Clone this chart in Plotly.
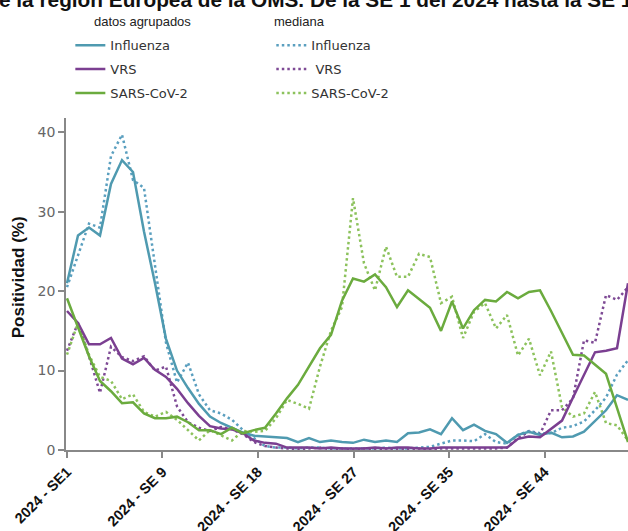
import plotly.graph_objects as go

weeks = list(range(1, 53))

influenza = [21, 27, 28, 27, 33.5, 36.5, 35, 27.5, 21, 14, 10, 7.8, 5.8, 4.2, 3.4, 2.8, 2.2, 1.8,
             1.7, 1.6, 1.5, 1.0, 1.5, 1.0, 1.2, 1.0, 0.9, 1.3, 1.0, 1.2, 1.0, 2.1, 2.2, 2.6, 2.0,
             4.0, 2.5, 3.2, 2.4, 2.0, 0.9, 1.9, 2.3, 1.9, 2.2, 1.6, 1.7, 2.3, 3.6, 5.0, 6.9, 6.3]
influenza_med = [20.5, 24.5, 28.5, 28, 37, 39.7, 34, 33, 23, 13.5, 8.5, 11, 7, 5.0, 4.6, 3.8, 2.5,
                 1.5, 0.5, 0.3, 0.3, 0.2, 0.3, 0.3, 0.2, 0.2, 0.2, 0.2, 0.2, 0.3, 0.2, 0.2, 0.3,
                 0.4, 0.8, 1.2, 1.2, 1.1, 2.0, 1.0, 0.8, 1.9, 2.4, 2.1, 2.1, 2.8, 3.0, 3.6, 5.0,
                 6.6, 9.5, 11.3]
vrs = [17.5, 16, 13.3, 13.3, 14.1, 11.5, 10.8, 11.6, 10.1, 9.2, 7.7, 5.9, 4.3, 3.0, 2.7, 2.6, 2.1,
       1.2, 0.9, 0.8, 0.3, 0.3, 0.3, 0.2, 0.3, 0.2, 0.2, 0.2, 0.3, 0.2, 0.3, 0.3, 0.2, 0.2, 0.3,
       0.3, 0.3, 0.3, 0.3, 0.3, 0.3, 1.4, 1.7, 1.6, 2.6, 3.7, 6.6, 9.5, 12.3, 12.5, 12.8, 21]
vrs_med = [12.5, 16, 11.8, 7.2, 13, 11.7, 11.2, 11.8, 10, 10.5, 5.5, 3.5, 2.8, 2.4, 2.9, 2.6, 2.0,
           1.0, 0.5, 0.3, 0.2, 0.1, 0.2, 0.3, 0.1, 0.2, 0.1, 0.2, 0.1, 0.2, 0.1, 0.1, 0.2, 0.1,
           0.2, 0.2, 0.2, 0.2, 0.2, 0.2, 0.3, 1.5, 2.3, 2.0, 5.0, 5.0, 6.5, 13.8, 13.5, 19.5, 18.9,
           20.5]
sars = [19.1, 15.5, 11.8, 8.7, 7.4, 5.9, 6.0, 4.6, 4.0, 4.0, 4.2, 3.5, 2.5, 2.5, 2.0, 2.8, 2.1,
        2.5, 2.8, 4.6, 6.5, 8.2, 10.5, 12.8, 14.5, 18.8, 21.6, 21.2, 22.1, 20.5, 18.0, 20.1, 19.0,
        17.9, 15.0, 18.7, 15.3, 17.6, 18.9, 18.7, 19.9, 19.1, 19.9, 20.1, 17.5, 14.7, 12.0, 11.9,
        10.8, 9.6, 5.3, 1.0]
sars_med = [12, 16, 12, 9.2, 8.7, 6.4, 7.0, 4.8, 4.2, 4.8, 3.8, 2.5, 1.2, 2.5, 1.9, 1.2, 2.4, 2.3,
            2.4, 4.0, 6.3, 5.8, 5.2, 10.5, 15, 18, 31.7, 23.5, 20.1, 25.6, 21.8, 21.8, 24.7, 24.3,
            18.5, 19.3, 14.1, 17.4, 18.5, 15.3, 17.0, 11.9, 14.0, 9.4, 12.4, 5.4, 4.2, 4.6, 7.3,
            3.4, 3.1, 1.2]

tick_vals = [1, 9.68, 18.36, 27.05, 35.73, 44.41]
tick_text = ["2024 - SE1", "2024 - SE 9", "2024 - SE 18", "2024 - SE 27", "2024 - SE 35", "2024 - SE 44"]

c_inf = "#4f9ab0"
c_vrs = "#7b3f91"
c_sars = "#6bab3e"
c_inf_m = "#5a9fbf"
c_vrs_m = "#7e4a95"
c_sars_m = "#8cc25c"

fig = go.Figure()
solid = [("Influenza", influenza, c_inf), ("VRS", vrs, c_vrs), ("SARS-CoV-2", sars, c_sars)]
dotted = [("Influenza", influenza_med, c_inf_m), (" VRS", vrs_med, c_vrs_m), ("SARS-CoV-2", sars_med, c_sars_m)]

for i, (name, vals, col) in enumerate(dotted):
    fig.add_trace(go.Scatter(x=weeks, y=vals, mode="lines", name=name,
                             line=dict(color=col, width=2.5, dash="2.5px,3px"),
                             legend="legend2", legendgroup="m%d" % i, legendrank=i + 1))
for i, (name, vals, col) in enumerate(solid):
    fig.add_trace(go.Scatter(x=weeks, y=vals, mode="lines", name=name,
                             line=dict(color=col, width=2.5),
                             legend="legend", legendgroup="s%d" % i, legendrank=i + 1))

fig.update_layout(
    width=628, height=531,
    margin=dict(l=66, r=0, t=118, b=81, autoexpand=False),
    paper_bgcolor="white", plot_bgcolor="white",
    showlegend=True,
    legend=dict(xref="container", yref="container", x=0.112, y=0.943, xanchor="left", yanchor="top",
                font=dict(family="DejaVu Sans", size=13, color="#333333"),
                tracegroupgap=4, bgcolor="rgba(0,0,0,0)", traceorder="grouped"),
    legend2=dict(xref="container", yref="container", x=0.432, y=0.943, xanchor="left", yanchor="top",
                 font=dict(family="DejaVu Sans", size=13, color="#333333"),
                 tracegroupgap=4, bgcolor="rgba(0,0,0,0)", traceorder="grouped"),
    xaxis=dict(range=[0.91, 52], tickmode="array", tickvals=tick_vals, ticktext=tick_text,
               tickangle=-45, ticks="outside", ticklen=6, tickcolor="#888888", tickwidth=1.5,
               showline=True, linecolor="#888888", linewidth=1.5, showgrid=False, zeroline=False,
               automargin=False,
               tickfont=dict(family="Liberation Sans", size=14.5, color="#111111", weight="bold")),
    yaxis=dict(range=[0, 41.8], tickvals=[0, 10, 20, 30, 40], ticks="outside", ticklen=6,
               tickcolor="#888888", tickwidth=1.5, showline=True, linecolor="#888888", linewidth=1.5,
               showgrid=False, zeroline=False, automargin=False,
               tickfont=dict(family="DejaVu Sans", size=14, color="#666666")),
    annotations=[
        dict(text="e la región Europea de la OMS. De la SE 1 del 2024 hasta la SE 1",
             xref="paper", yref="paper", x=-0.123, y=1.316, xanchor="left", yanchor="bottom",
             showarrow=False, font=dict(family="Liberation Sans", size=20.8, color="#111111", weight="bold")),
        dict(text="datos agrupados", xref="paper", yref="paper", x=0.046, y=1.292,
             xanchor="left", yanchor="middle", showarrow=False,
             font=dict(family="Liberation Sans", size=13, color="#222222")),
        dict(text="mediana", xref="paper", yref="paper", x=0.366, y=1.292,
             xanchor="left", yanchor="middle", showarrow=False,
             font=dict(family="Liberation Sans", size=13, color="#222222")),
        dict(text="Positividad (%)", xref="paper", yref="paper", x=-0.085, y=0.521,
             xanchor="center", yanchor="middle", textangle=-90, showarrow=False,
             font=dict(family="Liberation Sans", size=17, color="#111111", weight="bold")),
    ],
)

fig.write_html("out.html", post_script="document.body.style.margin='0';",
               config={"displayModeBar": False})
